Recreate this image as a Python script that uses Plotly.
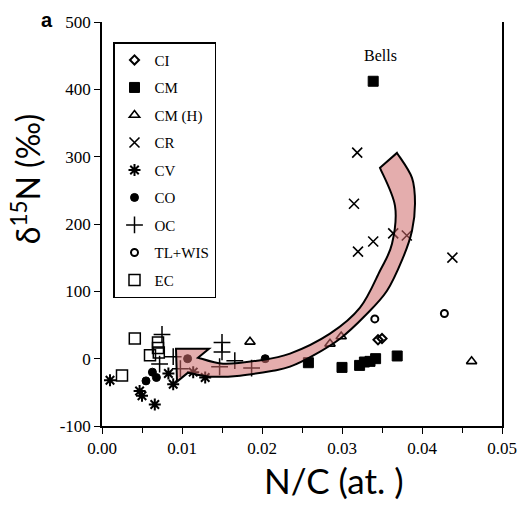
import plotly.graph_objects as go

# ---- data (N/C atomic, delta15N permil) ----
CI_x = [0.0345, 0.0350]
CI_y = [28, 30]
CM_x = [0.0339, 0.0258, 0.0300, 0.0322, 0.0328, 0.0335, 0.0342, 0.0369]
CM_y = [412, -6, -13, -10, -5, -4, 0, 4]
CMH_x = [0.0185, 0.0285, 0.0299, 0.0462]
CMH_y = [25, 22, 33, -4]
CR_x = [0.0319, 0.0315, 0.0320, 0.0339, 0.0364, 0.0381, 0.0438]
CR_y = [306, 230, 159, 174, 186, 183, 150]
CV_x = [0.0010, 0.0047, 0.0050, 0.0066, 0.0083, 0.0089, 0.0114, 0.0129]
CV_y = [-32, -48, -55, -68, -22, -38, -20, -28]
CO_x = [0.0055, 0.0063, 0.0068, 0.0107, 0.0204]
CO_y = [-33, -20, -28, 0, 0]
OC_x = [0.0075, 0.0072, 0.0089, 0.0098, 0.0150, 0.0150, 0.0166, 0.0147, 0.0187]
OC_y = [36, -8, 3, -15, 24, 10, -3, -12, -14]
TL_x = [0.0341, 0.0428]
TL_y = [59, 67]
EC_x = [0.0041, 0.0070, 0.0070, 0.0071, 0.0060, 0.0025]
EC_y = [30, 24, 16, 9, 5, -25]

x_ticks = [0.00, 0.01, 0.02, 0.03, 0.04, 0.05]
x_tick_labels = ["0.00", "0.01", "0.02", "0.03", "0.04", "0.05"]
y_ticks = [-100, 0, 100, 200, 300, 400, 500]
y_tick_labels = ["-100", "0", "100", "200", "300", "400", "500"]

series = [
    ("CI", CI_x, CI_y, "diamond-open", 7, 2),
    ("CM", CM_x, CM_y, "square", 10, 1),
    ("CM (H)", CMH_x, CMH_y, "triangle-up-open", 9, 1.6),
    ("CR", CR_x, CR_y, "x-thin-open", 10, 1.6),
    ("CV", CV_x, CV_y, "asterisk-open", 10, 2),
    ("CO", CO_x, CO_y, "circle", 8, 1),
    ("OC", OC_x, OC_y, "cross-thin-open", 12, 1.5),
    ("TL+WIS", TL_x, TL_y, "circle-open", 7, 2),
    ("EC", EC_x, EC_y, "square-open", 11, 1.5),
]

fig = go.Figure()
for i, (name, xs, ys, sym, size, lw) in enumerate(series):
    fig.add_trace(go.Scatter(
        x=xs, y=ys, mode="markers", name=name, legendgroup=name,
        marker=dict(symbol=sym, size=size, color="black",
                    line=dict(color="black", width=lw)),
    ))

# ---- decorative curved arrow (data units) ----
inner = [(0.03475, 283.4), (0.036625, 227.0), (0.03625, 170.6), (0.03475, 130.6),
         (0.03225, 75.7), (0.0285, 37.1), (0.0235, 7.4), (0.019375, -3.0),
         (0.015125, -7.4), (0.0120, 1.5)]
head = [(0.013375, 14.8), (0.00925, 14.8), (0.009375, -34.1), (0.01075, -20.8)]
outer = [(0.01075, -20.8), (0.0135, -26.7), (0.01725, -25.2), (0.021375, -17.8),
         (0.0235, -11.9), (0.026375, 4.5), (0.02975, 29.7), (0.032875, 63.8),
         (0.035625, 100.9), (0.037625, 149.9), (0.03875, 189.9), (0.039125, 230.0),
         (0.03875, 268.6), (0.036875, 305.6)]


def smooth(pts):
    # Catmull-Rom to cubic bezier path segments
    out = []
    n = len(pts)
    for i in range(n - 1):
        p0 = pts[i - 1] if i > 0 else pts[i]
        p1 = pts[i]
        p2 = pts[i + 1]
        p3 = pts[i + 2] if i + 2 < n else pts[i + 1]
        c1 = (p1[0] + (p2[0] - p0[0]) / 6, p1[1] + (p2[1] - p0[1]) / 6)
        c2 = (p2[0] - (p3[0] - p1[0]) / 6, p2[1] - (p3[1] - p1[1]) / 6)
        out.append(f"C {c1[0]},{c1[1]} {c2[0]},{c2[1]} {p2[0]},{p2[1]}")
    return " ".join(out)


path = f"M {inner[0][0]},{inner[0][1]} " + smooth(inner)
for p in head:
    path += f" L {p[0]},{p[1]}"
path += " " + smooth(outer) + " Z"

fig.add_shape(type="path", path=path, xref="x", yref="y",
              fillcolor="rgba(205,105,105,0.55)",
              line=dict(color="black", width=2), layer="above")

serif = "Liberation Serif"
fig.update_layout(
    width=517, height=513,
    margin=dict(l=102, r=15, t=22, b=87),
    paper_bgcolor="white", plot_bgcolor="white",
    font=dict(family=serif, size=15, color="black"),
    legend=dict(x=0.0275, y=0.95, xanchor="left", yanchor="top",
                bordercolor="black", borderwidth=1.5, bgcolor="white",
                font=dict(family=serif, size=15), tracegroupgap=5,
                itemwidth=30),
    showlegend=True,
)
fig.update_xaxes(range=[0, 0.05], tickmode="array", tickvals=x_ticks, ticktext=x_tick_labels,
                 showline=True, linecolor="black", linewidth=1.5,
                 ticks="outside", ticklen=6, tickcolor="black",
                 minor=dict(dtick=0.005, ticks="outside", ticklen=5, tickcolor="black"),
                 showgrid=False, zeroline=False, automargin=False,
                 ticklabeloverflow="allow",
                 tickfont=dict(family=serif, size=17))
fig.update_yaxes(range=[-100, 500], tickmode="array", tickvals=y_ticks, ticktext=y_tick_labels,
                 showline=True, linecolor="black", linewidth=1.5, mirror=True,
                 ticks="outside", ticklen=6, tickcolor="black",
                 showgrid=False, zeroline=False, automargin=False,
                 ticklabeloverflow="allow",
                 tickfont=dict(family=serif, size=17))

# axis titles (placed as in the reference, off-centre)
fig.add_annotation(text="N/C (at. )", x=0.58, y=-0.134, xref="paper", yref="paper",
                   xanchor="center", yanchor="middle", showarrow=False,
                   font=dict(family="Lato", size=35))
fig.add_annotation(text="δ<sup>15</sup>N (‰)", x=-0.19, y=0.611, xref="paper", yref="paper",
                   xanchor="center", yanchor="middle", showarrow=False, textangle=-90,
                   font=dict(family="Lato", size=32))

fig.add_annotation(text="Bells", x=0.0348, y=450, xref="x", yref="y",
                   showarrow=False, font=dict(family=serif, size=16))
fig.add_annotation(text="<b>a</b>", x=-0.1375, y=1.005, xref="paper", yref="paper",
                   xanchor="center", yanchor="middle", showarrow=False,
                   font=dict(family="Liberation Sans", size=20))

fig.write_html("out.html", config={"displayModeBar": False},
               post_script="document.body.style.margin='0';document.body.style.overflow='hidden';")
